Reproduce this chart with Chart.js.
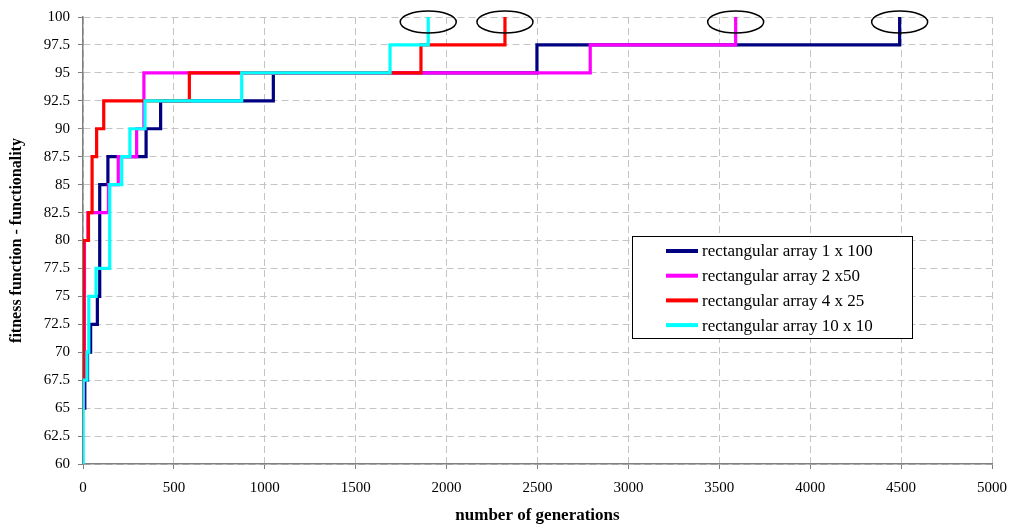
<!DOCTYPE html>
<html>
<head>
<meta charset="utf-8">
<script src="https://cdn.jsdelivr.net/npm/chart.js@4/dist/chart.umd.min.js"></script>
<style>
  html, body { margin: 0; padding: 0; background: #fff; }
  #wrap { width: 1009px; height: 524px; position: relative; }
</style>
</head>
<body>
<div id="wrap"><canvas id="chart"></canvas></div>
<script>
const seriesNames = [
  'rectangular array 1 x 100',
  'rectangular array 2 x50',
  'rectangular array 4 x 25',
  'rectangular array 10 x 10',
]
const seriesColors = ['#000080', '#ff00ff', '#ff0000', '#00ffff']

// generation at which each step happens, and the fitness reached there
const gens1x100 = [0, 10, 25, 42, 79, 92, 137, 347, 427, 1047, 2497, 4492]
const fit1x100 = [65, 67.5, 70, 72.5, 75, 85, 87.5, 90, 92.5, 95, 97.5, 100]
const gens2x50 = [0, 3, 8, 27, 140, 194, 295, 335, 2790, 3590]
const fit2x50 = [65, 67.5, 80, 82.5, 85, 87.5, 90, 95, 97.5, 100]
const gens4x25 = [0, 4, 30, 50, 75, 114, 585, 1859, 2321]
const fit4x25 = [67.5, 80, 82.5, 87.5, 90, 92.5, 95, 97.5, 100]
const gens10x10 = [0, 1, 22, 32, 72, 147, 213, 258, 341, 873, 1689, 1899]
const fit10x10 = [60, 67.5, 70, 75, 77.5, 85, 87.5, 90, 92.5, 95, 97.5, 100]

const xTickValues = [0, 500, 1000, 1500, 2000, 2500, 3000, 3500, 4000, 4500, 5000]
const yTickValues = [60, 62.5, 65, 67.5, 70, 72.5, 75, 77.5, 80, 82.5, 85, 87.5, 90, 92.5, 95, 97.5, 100]

const seriesGens = [gens1x100, gens2x50, gens4x25, gens10x10]
const seriesFit = [fit1x100, fit2x50, fit4x25, fit10x10]

const serif = "'Liberation Serif', 'Times New Roman', serif"

// black ellipses around the point where each run reaches 100
const ringTops = {
  id: 'ringTops',
  afterDatasetsDraw(chart) {
    const { ctx, scales: { x, y } } = chart
    ctx.save()
    ctx.strokeStyle = '#000'
    ctx.lineWidth = 1.5
    chart.data.datasets.forEach((ds) => {
      const last = ds.data[ds.data.length - 1]
      ctx.beginPath()
      ctx.ellipse(x.getPixelForValue(last.x), y.getPixelForValue(last.y) + 5, 28, 11, 0, 0, Math.PI * 2)
      ctx.stroke()
    })
    ctx.restore()
  },
}

// boxed legend sitting inside the plot
const boxLegend = {
  id: 'boxLegend',
  afterDraw(chart, args, opts) {
    const { ctx } = chart
    ctx.save()
    ctx.fillStyle = '#fff'
    ctx.fillRect(opts.left, opts.top, opts.width, opts.height)
    ctx.strokeStyle = '#000'
    ctx.lineWidth = 1
    ctx.strokeRect(opts.left + 0.5, opts.top + 0.5, opts.width, opts.height)
    ctx.font = `17px ${serif}`
    ctx.textBaseline = 'middle'
    chart.data.datasets.forEach((ds, i) => {
      const rowY = opts.top + 15 + i * 24.7
      ctx.strokeStyle = ds.borderColor
      ctx.lineWidth = 4
      ctx.beginPath()
      ctx.moveTo(opts.left + 34, rowY)
      ctx.lineTo(opts.left + 66, rowY)
      ctx.stroke()
      ctx.fillStyle = '#000'
      ctx.fillText(ds.label, opts.left + 70, rowY + 1)
    })
    ctx.restore()
  },
}

const datasets = seriesNames.map((name, i) => ({
  label: name,
  data: seriesGens[i].map((g, j) => ({ x: g, y: seriesFit[i][j] })),
  borderColor: seriesColors[i],
  backgroundColor: seriesColors[i],
  borderWidth: 3.2,
  pointRadius: 0,
  stepped: true,
  tension: 0,
  order: seriesNames.length - i,
}))

const axisFont = { family: serif, size: 15 }
const gridStyle = {
  color: '#c4c4c4',
  lineWidth: 1,
  tickLength: 5,
  tickColor: '#808080',
}
const borderStyle = { display: true, color: '#808080', width: 1.5, dash: [7, 4] }

new Chart(document.getElementById('chart').getContext('2d'), {
  type: 'line',
  data: { datasets },
  options: {
    animation: false,
    responsive: true,
    maintainAspectRatio: false,
    layout: { padding: { top: 16, right: 17, left: 0, bottom: 0 } },
    plugins: {
      legend: { display: false },
      tooltip: { enabled: false },
      boxLegend: { left: 632, top: 236, width: 280, height: 102 },
    },
    scales: {
      x: {
        type: 'linear',
        min: 0,
        max: 5000,
        afterBuildTicks: (scale) => {
          scale.ticks = xTickValues.map((v) => ({ value: v }))
        },
        afterFit: (scale) => {
          scale.height = 60
          scale.paddingLeft = 0
          scale.paddingRight = 0
        },
        ticks: {
          color: '#000',
          font: axisFont,
          padding: 10,
          maxRotation: 0,
          callback: (v) => String(v),
        },
        grid: gridStyle,
        border: borderStyle,
        title: {
          display: true,
          text: 'number of generations',
          color: '#000',
          font: { family: serif, size: 17, weight: 'bold', lineHeight: 1 },
          padding: { top: 0, bottom: 0 },
        },
      },
      y: {
        min: 60,
        max: 100,
        afterBuildTicks: (scale) => {
          scale.ticks = yTickValues.map((v) => ({ value: v }))
        },
        afterFit: (scale) => {
          scale.width = 83
        },
        ticks: {
          color: '#000',
          font: axisFont,
          padding: 8,
          callback: (v) => String(v),
        },
        grid: gridStyle,
        border: borderStyle,
        title: {
          display: true,
          text: 'fitness function - functionality',
          color: '#000',
          font: { family: serif, size: 16, weight: 'bold', lineHeight: 1 },
          padding: { top: 9, bottom: 0 },
        },
      },
    },
  },
  plugins: [ringTops, boxLegend],
})
</script>
</body>
</html>
